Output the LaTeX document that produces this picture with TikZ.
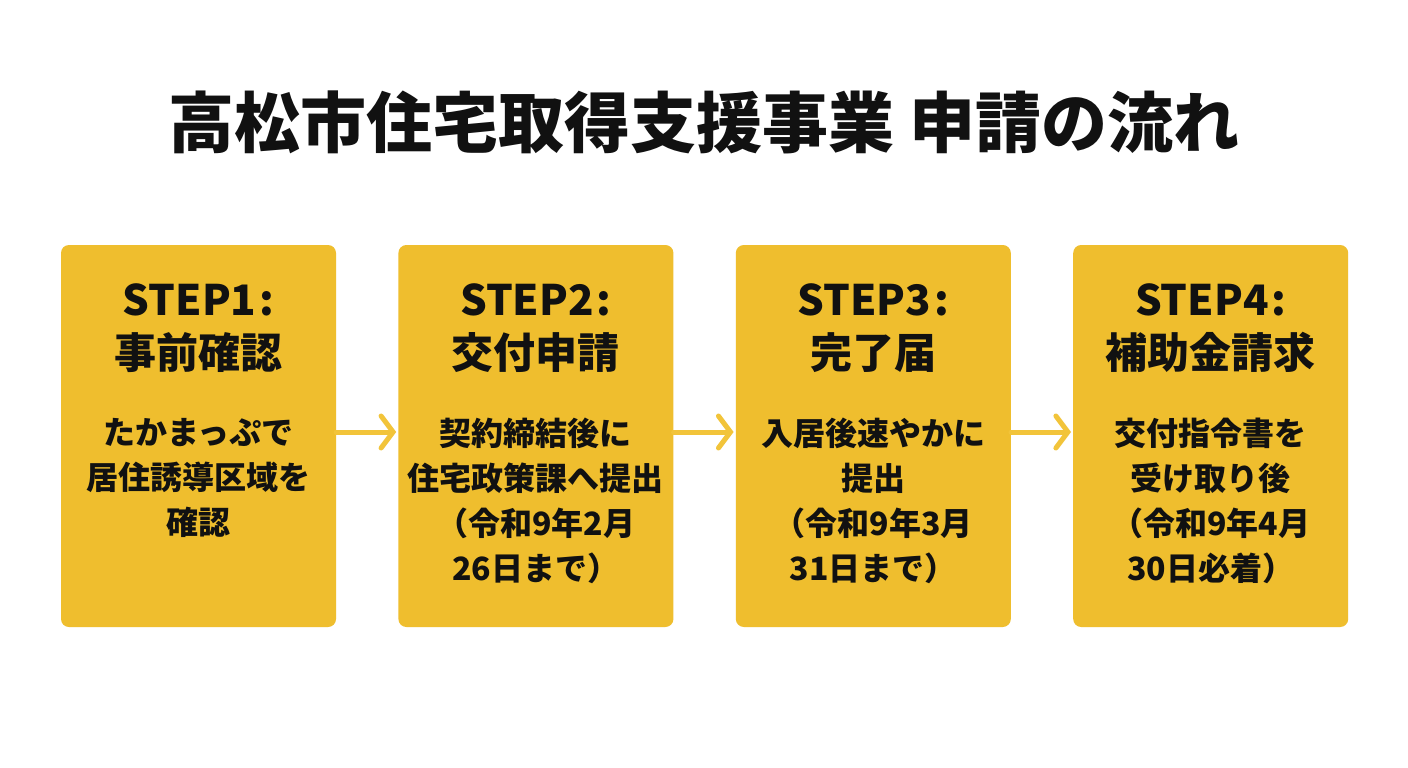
\documentclass[tikz,border=0pt]{standalone}
\usepackage{fontspec}
\setmainfont{Noto Sans CJK JP}
\usepackage{tikz}
\usetikzlibrary{positioning,arrows.meta}
\definecolor{StepGold}{RGB}{239, 190, 46}
\definecolor{ArrowGold}{RGB}{242, 196, 58}
\definecolor{TitleInk}{RGB}{17, 17, 17}

\newcommand{\stepno}[1]{STEP#1\kern3pt:}

\tikzset{
  stepbox/.style={fill=StepGold, rounded corners=8pt, minimum width=275pt, minimum height=382pt, inner sep=0pt},
  stephead/.style={align=center, inner sep=0pt, text=TitleInk, font=\fontsize{42pt}{53pt}\selectfont\bfseries},
  stepbody/.style={align=center, inner sep=0pt, text=TitleInk, font=\fontsize{32pt}{45pt}\selectfont\bfseries},
  steparrow/.style={draw=ArrowGold, line width=5pt, line cap=round, -{Straight Barb[length=12pt, width=32pt, line cap=round]}}
}

\begin{document}
\begin{tikzpicture}[x=1pt, y=-1pt]
  \useasboundingbox[fill=white] (0,0) rectangle (1408,768);

  % title
  \node[text=TitleInk, inner sep=0pt, font=\fontsize{66pt}{72pt}\selectfont\bfseries] (title) at (704,122) {高松市住宅取得支援事業 申請の流れ};

  % boxes
  \node[stepbox] (s1) at (198.5,436) {};
  \node[stepbox, right=62pt of s1] (s2) {};
  \node[stepbox, right=62pt of s2] (s3) {};
  \node[stepbox, right=62pt of s3] (s4) {};

  % headings
  \node[stephead, below=39pt of s1.north] (h1) {\stepno{1}\\事前確認};
  \node[stephead, below=39pt of s2.north] (h2) {\stepno{2}\\交付申請};
  \node[stephead, below=39pt of s3.north] (h3) {\stepno{3}\\完了届};
  \node[stephead, below=39pt of s4.north] (h4) {\stepno{4}\\補助金請求};

  % details
  \node[stepbody, below=173pt of s1.north] (b1) {たかまっぷで\\居住誘導区域を\\確認};
  \node[stepbody, below=173pt of s2.north] (b2) {契約締結後に\\住宅政策課へ提出\\（令和9年2月\\26日まで）};
  \node[stepbody, below=173pt of s3.north] (b3) {入居後速やかに\\提出\\（令和9年3月\\31日まで）};
  \node[stepbody, below=173pt of s4.north] (b4) {交付指令書を\\受け取り後\\（令和9年4月\\30日必着）};

  % arrows
  \foreach \a/\b in {s1/s2, s2/s3, s3/s4}
    \draw[steparrow] ([yshift=4pt]\a.east) -- ([xshift=-2pt, yshift=4pt]\b.west);
\end{tikzpicture}
\end{document}
